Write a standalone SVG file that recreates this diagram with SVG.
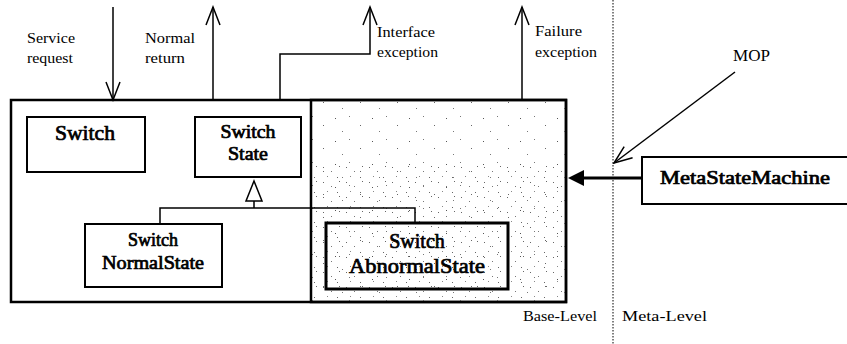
<svg xmlns="http://www.w3.org/2000/svg" width="847" height="344" viewBox="0 0 847 344">
  <style>
    .box { fill: #fff; stroke: #000; stroke-width: 2; }
    .thick { fill: none; stroke: #000; stroke-width: 3; }
    .line { fill: none; stroke: #000; stroke-width: 1.5; }
    .lbl { font-family: "Liberation Serif", "Times New Roman", serif; fill: #000; }
    .name { font-family: "Liberation Serif", "Times New Roman", serif; fill: #000; stroke: #000; stroke-width: 0.7; }
  </style>
  <defs>
    <!-- speckled fill of the meta-controlled region -->
    <pattern id="speckle" width="37" height="23" patternUnits="userSpaceOnUse">
      <rect x="2" y="3" width="1" height="1" fill="#555"/>
      <rect x="16" y="1" width="1" height="1" fill="#777"/>
      <rect x="27" y="10" width="1" height="1" fill="#666"/>
      <rect x="9" y="16" width="1" height="1" fill="#777"/>
    </pattern>
    <pattern id="speckleDense" width="23" height="15" patternUnits="userSpaceOnUse">
      <rect x="1" y="2" width="1" height="1" fill="#666"/>
      <rect x="9" y="6" width="1" height="1" fill="#777"/>
      <rect x="17" y="1" width="1" height="1" fill="#666"/>
      <rect x="5" y="11" width="1" height="1" fill="#888"/>
      <rect x="15" y="12" width="1" height="1" fill="#666"/>
    </pattern>
    <marker id="open" viewBox="-20 -10 22 20" refX="0" refY="0" markerWidth="22" markerHeight="20" markerUnits="userSpaceOnUse" orient="auto">
      <path d="M-18,-7 L0,0 L-18,7" fill="none" stroke="#000" stroke-width="1.5"/>
    </marker>
  </defs>

  <!-- level separator -->
  <line x1="613" y1="0" x2="613" y2="344" stroke="#000" stroke-width="1" stroke-dasharray="1.5,1.5"/>

  <!-- base-level component -->
  <g id="component">
    <rect x="11" y="100" width="555" height="202" fill="#fff" stroke="#000" stroke-width="2.5"/>
    <rect x="311" y="100" width="255" height="202" fill="url(#speckle)"/>
    <rect x="311" y="165" width="255" height="137" fill="url(#speckleDense)"/>
    <rect x="311" y="100" width="255" height="202" fill="none" stroke="#000" stroke-width="2.5"/>
  </g>

  <g id="switch">
    <rect class="box" x="27" y="117" width="118" height="55"/>
    <text class="name" x="85" y="140" font-size="20" text-anchor="middle" textLength="60" lengthAdjust="spacingAndGlyphs">Switch</text>
  </g>

  <g id="switch-state">
    <rect class="box" x="195" y="117" width="106" height="60"/>
    <text class="name" x="248" y="138" font-size="18" text-anchor="middle" textLength="55" lengthAdjust="spacingAndGlyphs">Switch</text>
    <text class="name" x="248" y="160" font-size="18" text-anchor="middle" textLength="40" lengthAdjust="spacingAndGlyphs">State</text>
  </g>

  <g id="switch-normal-state">
    <rect class="box" x="85" y="224" width="137" height="63"/>
    <text class="name" x="153" y="246" font-size="18" text-anchor="middle">Switch</text>
    <text class="name" x="153" y="269" font-size="18" text-anchor="middle" textLength="102" lengthAdjust="spacingAndGlyphs">NormalState</text>
  </g>

  <g id="switch-abnormal-state">
    <rect x="326" y="223" width="182" height="66" fill="none" stroke="#000" stroke-width="3"/>
    <text class="name" x="417" y="248" font-size="20" text-anchor="middle" stroke-width="0.9">Switch</text>
    <text class="name" x="417" y="273" font-size="20" text-anchor="middle" stroke-width="0.9" textLength="136" lengthAdjust="spacingAndGlyphs">AbnormalState</text>
  </g>

  <g id="meta-state-machine">
    <rect class="box" x="642" y="157" width="215" height="47"/>
    <text class="name" x="660" y="184" font-size="18" textLength="170" lengthAdjust="spacingAndGlyphs">MetaStateMachine</text>
  </g>

  <g id="connectors">
    <!-- inheritance -->
    <path class="line" d="M254,181 L246,201 L262,201 Z" fill="#fff"/>
    <path class="line" d="M254,201 V208 M160,224 V208 H415 V223"/>
    <!-- service request / returns / exceptions -->
    <line class="line" x1="113" y1="7" x2="113" y2="100" marker-end="url(#open)"/>
    <line class="line" x1="213" y1="100" x2="213" y2="7" marker-end="url(#open)"/>
    <path class="line" d="M280,100 V54 H370 V7" marker-end="url(#open)"/>
    <line class="line" x1="522" y1="100" x2="522" y2="7" marker-end="url(#open)"/>
    <!-- meta-level control -->
    <line class="thick" x1="642" y1="178" x2="580" y2="178"/>
    <path d="M568,178 L584,170 L584,186 Z" fill="#000"/>
    <!-- MOP -->
    <line class="line" x1="735" y1="72" x2="614" y2="163" marker-end="url(#open)"/>
  </g>

  <g id="labels">
    <text class="lbl" x="27" y="43" font-size="14" textLength="48" lengthAdjust="spacingAndGlyphs">Service</text>
    <text class="lbl" x="27" y="63" font-size="14" textLength="46" lengthAdjust="spacingAndGlyphs">request</text>
    <text class="lbl" x="145" y="43" font-size="14" textLength="50" lengthAdjust="spacingAndGlyphs">Normal</text>
    <text class="lbl" x="145" y="63" font-size="14" textLength="40" lengthAdjust="spacingAndGlyphs">return</text>
    <text class="lbl" x="377" y="37" font-size="14" textLength="58" lengthAdjust="spacingAndGlyphs">Interface</text>
    <text class="lbl" x="377" y="57" font-size="14" textLength="61" lengthAdjust="spacingAndGlyphs">exception</text>
    <text class="lbl" x="535" y="36" font-size="14" textLength="47" lengthAdjust="spacingAndGlyphs">Failure</text>
    <text class="lbl" x="535" y="57" font-size="14" textLength="62" lengthAdjust="spacingAndGlyphs">exception</text>
    <text class="lbl" x="733" y="61" font-size="16" textLength="37" lengthAdjust="spacingAndGlyphs">MOP</text>
    <text class="lbl" x="523" y="321" font-size="15" textLength="74" lengthAdjust="spacingAndGlyphs">Base-Level</text>
    <text class="lbl" x="622" y="321" font-size="15" textLength="85" lengthAdjust="spacingAndGlyphs">Meta-Level</text>
  </g>
</svg>
